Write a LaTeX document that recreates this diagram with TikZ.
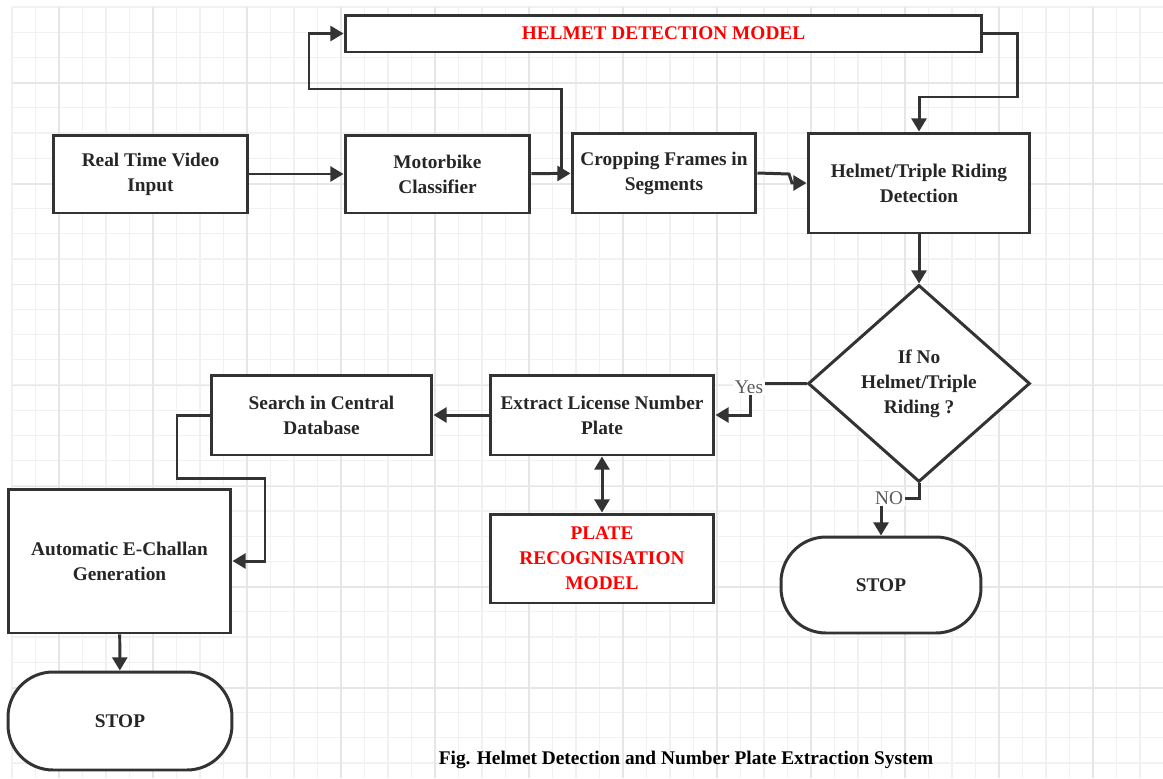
\documentclass[tikz,border=0pt]{standalone}
\usepackage{fontspec}
\setmainfont{Liberation Serif}
\usepackage{tikz}
\usetikzlibrary{arrows.meta}
\usetikzlibrary{shapes.geometric}
\definecolor{ink}{HTML}{333333}
\definecolor{gridlo}{HTML}{F1F1F1}
\definecolor{gridhi}{HTML}{E6E6E6}
\tikzstyle{every node}=[font=\fontsize{11}{14.2}\selectfont\bfseries]
\tikzstyle{block}=[draw=ink, line width=1.7pt, fill=white, align=center, text=black!85, inner sep=2pt]
\tikzstyle{model}=[block, text=red]
\tikzstyle{terminal}=[block, rounded corners=0.9cm]
\tikzstyle{decision}=[block, diamond, aspect=1.13, inner sep=0pt]
\tikzstyle{link}=[draw=ink, line width=1.7pt, >={Triangle[length=7.5pt,width=8.5pt]}, ->]
\tikzstyle{tag}=[font=\fontsize{11}{13}\selectfont, text=black!65, fill=white, inner sep=1pt]

\begin{document}
\begin{tikzpicture}[x=0.02cm, y=-0.02cm]
    \useasboundingbox (0,0) rectangle (1163,778);
    % grid paper
    \foreach \gx in {12,35.5,...,1163} \draw[gridlo, line width=0.6pt] (\gx,7) -- (\gx,778);
    \foreach \gy in {7,32.2,...,778} \draw[gridlo, line width=0.6pt] (12,\gy) -- (1163,\gy);
    \foreach \gx in {59,153,...,1163} \draw[gridhi, line width=0.8pt] (\gx,7) -- (\gx,778);
    \foreach \gy in {83,183.8,...,778} \draw[gridhi, line width=0.8pt] (12,\gy) -- (1163,\gy);

    % top row
    \node[model, minimum width=12.74cm, minimum height=0.74cm] (hdm) at (663.5,33.5) {HELMET DETECTION MODEL};
    \node[block, minimum width=3.9cm, minimum height=1.56cm] (rtv) at (150.5,174) {Real Time Video\\Input};
    \node[block, minimum width=3.7cm, minimum height=1.56cm] (mc) at (437.5,174) {Motorbike\\Classifier};
    \node[block, minimum width=3.68cm, minimum height=1.6cm] (cf) at (664,173) {Cropping Frames in\\Segments};
    \node[block, minimum width=4.44cm, minimum height=2cm] (htr) at (919,183) {Helmet/Triple Riding\\Detection};

    % decision and lower part
    \node[decision, minimum width=4.44cm, minimum height=3.94cm] (dec) at (919,383.5) {If No\\Helmet/Triple\\Riding ?};
    \node[block, minimum width=4.48cm, minimum height=1.6cm] (ext) at (602,415) {Extract License Number\\Plate};
    \node[block, minimum width=4.42cm, minimum height=1.6cm] (sdb) at (321.5,415) {Search in Central\\Database};
    \node[model, minimum width=4.48cm, minimum height=1.78cm] (prm) at (602,558.5) {PLATE\\RECOGNISATION\\MODEL};
    \node[block, minimum width=4.46cm, minimum height=2.88cm] (aec) at (119.5,561) {Automatic E-Challan\\Generation};
    \node[terminal, minimum width=4cm, minimum height=1.92cm] (stopa) at (881,585) {STOP};
    \node[terminal, minimum width=4.48cm, minimum height=1.96cm] (stopb) at (120,721) {STOP};

    % connectors
    \draw[link] (rtv) -- (mc);
    \draw[link] (mc) -- (cf);
    \coordinate (fork) at (561,174);
    \draw[link] (fork) -- (561,89) -| (309,33.5) -- (hdm);
    \draw[link] (hdm.east) -- (1017,33.5) |- (919,97) -- (htr);
    \coordinate (jog) at (792,183);
    \draw[link] (cf.east) -- (789,174) -- (jog) -- (jog -| htr.west);
    \draw[link] (htr) -- (dec);
    \draw[link] (dec.west) -- (750,383.5) |- (ext.east);
    \node[tag] (yes) at (749,387) {Yes};
    \draw[link] (dec.south) -- (919,498) -| (stopa.north);
    \node[tag] (no) at (889,498) {NO};
    \draw[link] (ext) -- (sdb);
    \draw[link] (sdb.west) -- (177,415) |- (265,478) |- (aec.east);
    \draw[link, <->] (ext) -- (prm);
    \draw[link] (aec) -- (stopb);

    \node (cap) at (686,760) {Fig. Helmet Detection and Number Plate Extraction System};
\end{tikzpicture}
\end{document}
